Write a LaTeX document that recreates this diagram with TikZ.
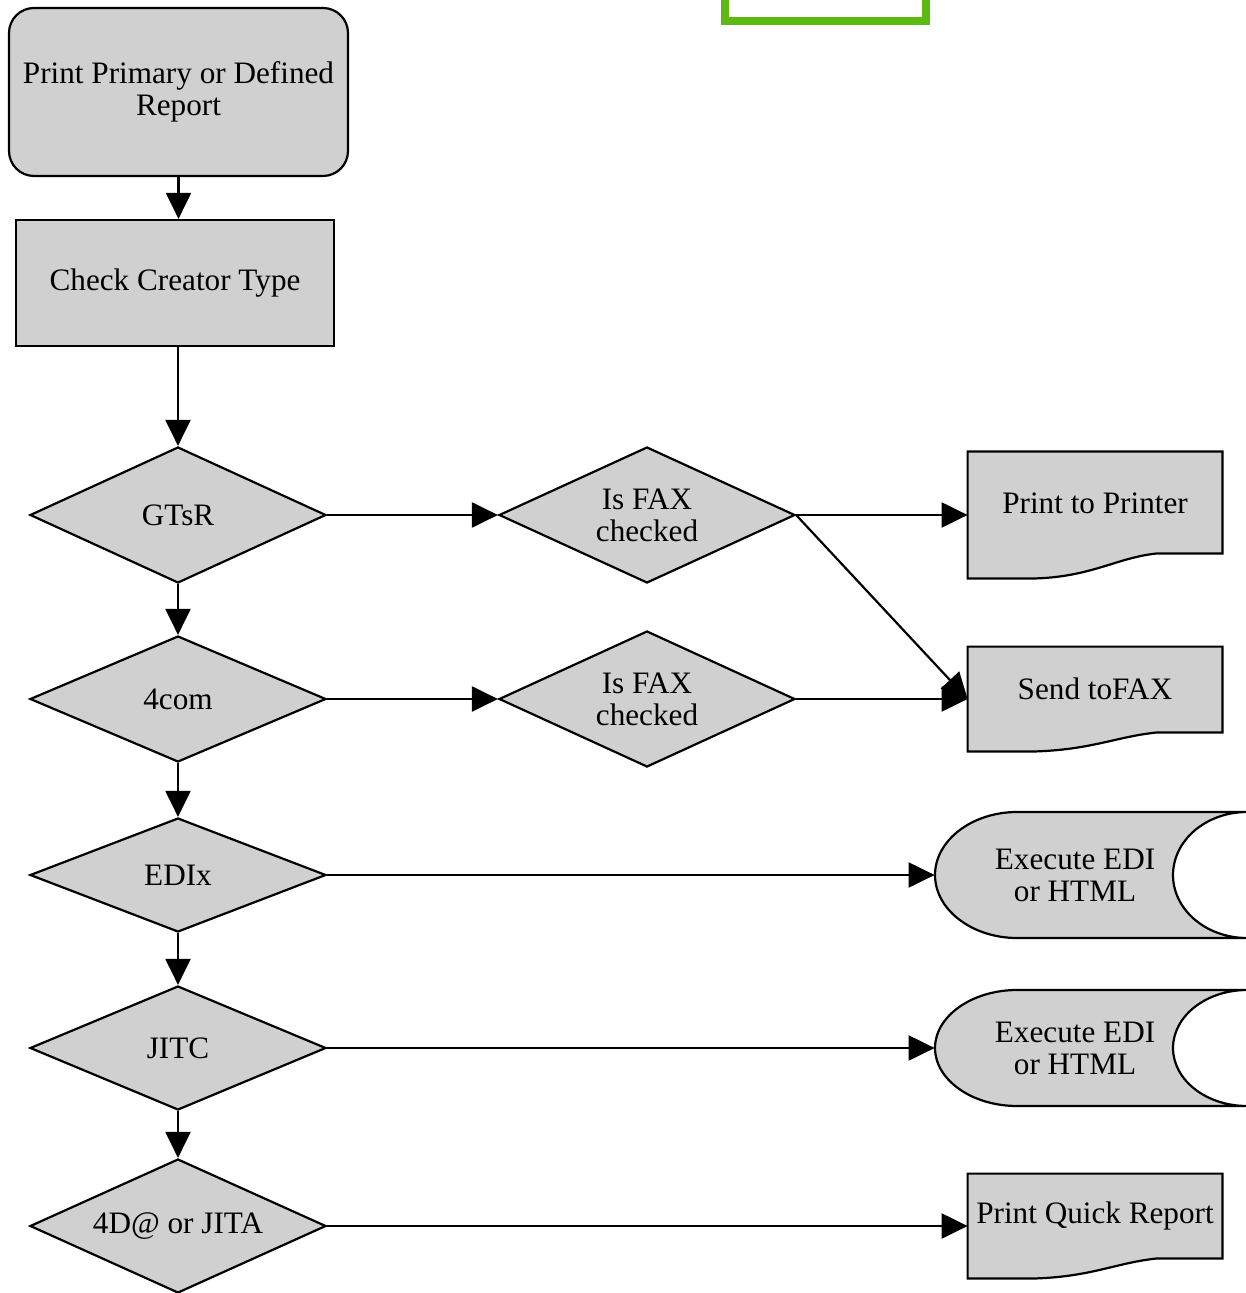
\documentclass[tikz,border=0pt]{standalone}
\usepackage{fontspec}
\setmainfont{Liberation Serif}
\usetikzlibrary{shapes.geometric,arrows.meta,calc,backgrounds}

\definecolor{boxgray}{RGB}{208,208,208}
\definecolor{frameGreen}{RGB}{92,185,16}

% document outline (wavy bottom); #1 node, #2 rise of the lower right corner
\newcommand\docoutline[2]{%
  \draw[shapeline] (#1.north west) -- (#1.north east)
    -- ($(#1.south east)+(0,-#2)$) -- ($(#1.south east)+(-65,-#2)$)
    .. controls ($(#1.south east)+(-105,-#2+4)$) and ($(#1.south west)+(125,-2)$)
    .. ($(#1.south west)+(69,0)$) -- (#1.south west) -- cycle;}

% stored-data outline; #1 node, #2 half height
\newcommand\storeoutline[2]{%
  \draw[shapeline] ($(#1)+(-58,-#2)$) -- ($(#1)+(172,-#2)$)
    .. controls ($(#1)+(131,-#2)$) and ($(#1)+(98,-0.55*#2)$) .. ($(#1)+(98,0)$)
    .. controls ($(#1)+(98,0.55*#2)$) and ($(#1)+(131,#2)$) .. ($(#1)+(172,#2)$)
    -- ($(#1)+(-58,#2)$)
    .. controls ($(#1)+(-103,#2)$) and ($(#1)+(-140,0.55*#2)$) .. ($(#1)+(-140,0)$)
    .. controls ($(#1)+(-140,-0.55*#2)$) and ($(#1)+(-103,-#2)$) .. cycle;}

\begin{document}
\begin{tikzpicture}[x=0.5pt,y=-0.5pt,
  txt/.style={font=\fontsize{15.6pt}{16pt}\selectfont, align=center, inner sep=0pt},
  shapeline/.style={draw=black, line width=1.1pt, fill=boxgray},
  startbox/.style={txt, shapeline, rounded corners=12.5pt},
  procbox/.style={txt, shapeline},
  decision/.style={txt, shapeline, diamond, aspect=2.2, minimum width=148pt},
  docbox/.style={rectangle, minimum width=127pt, inner sep=0pt},
  storebox/.style={txt, rectangle, minimum width=140pt},
  arr/.style={line width=1.1pt, -{Triangle[length=13pt,width=12.5pt]}}]

\useasboundingbox (0,0) rectangle (1245,1293);

% frame partly above the page
\node[draw=frameGreen, line width=4pt, minimum width=100.5pt, minimum height=41pt,
      inner sep=0pt] (frame) at (825.5,-20) {};

% main column
\node[startbox, minimum width=169.5pt, minimum height=84pt] (start) at (178.5,92)
  {Print Primary or Defined\\Report};
\node[procbox, minimum width=159pt, minimum height=63pt] (check) at (175,283)
  {Check Creator Type};
\node[decision, minimum height=68pt] (gtsr) at (178,515) {GTsR};
\node[decision, minimum height=63pt] (fourcom) at (178,699) {4com};
\node[decision, minimum height=57pt] (edix) at (178,875) {EDIx};
\node[decision, minimum height=62pt] (jitc) at (178,1048) {JITC};
\node[decision, minimum height=67pt] (jita) at (178,1226) {4D@ or JITA};

% FAX decisions
\node[decision, minimum height=68pt] (faxa) at (647,515) {Is FAX\\checked};
\node[decision, minimum height=68pt] (faxb) at (647,699) {Is FAX\\checked};

% output documents
\node[docbox, minimum height=63pt] (printer) at (1095,515) {};
\node[docbox, minimum height=52pt] (sendfax) at (1095,699) {};
\node[docbox, minimum height=52pt] (quick) at (1095,1226) {};
\begin{scope}[on background layer]
  \docoutline{printer}{25}
  \docoutline{sendfax}{19}
  \docoutline{quick}{20}
\end{scope}
\node[txt] (printer-t) at ([yshift=6pt]printer.center) {Print to Printer};
\node[txt] (sendfax-t) at ([yshift=5pt]sendfax.center) {Send toFAX};
\node[txt] (quick-t) at ([yshift=5pt]quick.center) {Print Quick Report};

% stored data
\node[storebox, minimum height=63pt] (execa) at (1075,875) {Execute EDI\\or HTML};
\node[storebox, minimum height=58pt] (execb) at (1075,1048) {Execute EDI\\or HTML};
\begin{scope}[on background layer]
  \storeoutline{execa}{63}
  \storeoutline{execb}{58}
\end{scope}

% connectors
\draw[arr] (start.south) -- (start.south |- check.north);
\draw[arr] (check.south -| gtsr.north) -- (gtsr.north);
\draw[arr] (gtsr.south) -- (fourcom.north);
\draw[arr] (fourcom.south) -- (edix.north);
\draw[arr] (edix.south) -- (jitc.north);
\draw[arr] (jitc.south) -- (jita.north);

\draw[arr] (gtsr.east) -- (faxa.west);
\draw[arr] (faxa.east) -- (printer.west);
\draw[arr] (faxa.east) -- (sendfax.west);
\draw[arr] (fourcom.east) -- (faxb.west);
\draw[arr] (faxb.east) -- (sendfax.west);
\draw[arr] (edix.east) -- (execa.west);
\draw[arr] (jitc.east) -- (execb.west);
\draw[arr] (jita.east) -- (quick.west);
\end{tikzpicture}
\end{document}
